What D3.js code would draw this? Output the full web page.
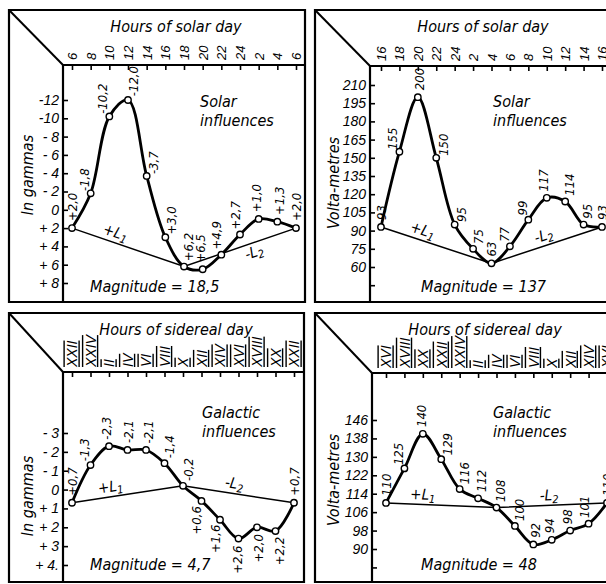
<!DOCTYPE html>
<html><head><meta charset="utf-8">
<script src="https://cdn.jsdelivr.net/npm/d3@7/dist/d3.min.js"></script>
<style>
body{margin:0;background:#fff;}
svg{display:block;font-family:"DejaVu Sans Condensed","DejaVu Sans",sans-serif;font-stretch:condensed;font-style:italic;}
</style></head><body>
<svg id="c" width="606" height="584"></svg>
<script>
// ---- data ----
const hoursSolarTL = ["6","8","10","12","14","16","18","20","22","24","2","4","6"];
const valuesTL = [2.0,-1.8,-10.2,-12.0,-3.7,3.0,6.2,6.5,4.9,2.7,1.0,1.3,2.0];
const ticksTL = [-12,-10,-8,-6,-4,-2,0,2,4,6,8];
const tickLabelsTL = ["-12","-10","- 8","- 6","- 4","- 2","0","+ 2","+ 4","+ 6","+ 8"];

const hoursSolarTR = ["16","18","20","22","24","2","4","6","8","10","12","14","16"];
const valuesTR = [93,155,200,150,95,75,63,77,99,117,114,95,93];
const ticksTR = [210,195,180,165,150,135,120,105,90,75,60,45];
const tickLabelsTR = ["210","195","180","165","150","135","120","105","90","75","60",""];

const hoursSiderealBL = ["XXII","XXIV","II","IV","VI","VIII","X","XII","XIV","XVI","XVIII","XX","XXII"];
const valuesBL = [0.7,-1.3,-2.3,-2.1,-2.1,-1.4,-0.2,0.6,1.6,2.6,2.0,2.2,0.7];
const ticksBL = [-3,-2,-1,0,1,2,3,4];
const tickLabelsBL = ["- 3","- 2","- 1","0","+ 1","+ 2","+ 3","+ 4."];

const hoursSiderealBR = ["XVI","XVIII","XX","XXII","XXIV","II","IV","VI","VIII","X","XII","XIV","XVI"];
const valuesBR = [110,125,140,129,116,112,108,100,92,94,98,101,110];
const ticksBR = [146,138,130,122,114,106,98,90,82];
const tickLabelsBR = ["146","138","130","122","114","106","98","90",""];

const magnitudes = ["18,5","137","4,7","48"];
const titles = ["Hours of solar day","Hours of solar day","Hours of sidereal day","Hours of sidereal day"];
const yTitles = ["In gammas","Volta-metres","In gammas","Volta-metres"];
const notes = [["Solar","influences"],["Solar","influences"],["Galactic","influences"],["Galactic","influences"]];

const fmtGamma = v => (v>0?"+":v<0?"-":"") + Math.abs(v).toFixed(1).replace(".",",");
const fmtVolt = v => String(v);

// ---- layout ----
const panels = [
 {hours:hoursSolarTL, values:valuesTL, ticks:ticksTL, tickLabels:tickLabelsTL, fmt:fmtGamma, roman:false,
  box:{l:9,t:10,r:305,b:302,ix:63,iy:65}, xr:[72,296], yd:[-12,8], yr:[100,283],
  ytY:175, note:[200,107], mag:[90,292], below:[], l1:[0.36,-1], l2:[0.6,1]},
 {hours:hoursSolarTR, values:valuesTR, ticks:ticksTR, tickLabels:tickLabelsTR, fmt:fmtVolt, roman:false,
  box:{l:315,t:10,r:616,b:302,ix:370,iy:66}, xr:[381,602], yd:[60,210], yr:[267,85],
  ytY:183, note:[493,107], mag:[421,292], below:[], l1:[0.35,-1], l2:[0.5,-1]},
 {hours:hoursSiderealBL, values:valuesBL, ticks:ticksBL, tickLabels:tickLabelsBL, fmt:fmtGamma, roman:true,
  box:{l:9,t:313,r:304,b:582,ix:63,iy:372}, xr:[72,294], yd:[-3,4], yr:[433,565],
  ytY:496, note:[202,418], mag:[90,570], below:[7,8,9,10,11], l1:[0.36,-1], l2:[0.45,-1]},
 {hours:hoursSiderealBR, values:valuesBR, ticks:ticksBR, tickLabels:tickLabelsBR, fmt:fmtVolt, roman:true,
  box:{l:315,t:313,r:616,b:582,ix:372,iy:373}, xr:[386,607], yd:[90,146], yr:[549,420],
  ytY:480, note:[493,418], mag:[421,570], below:[], l1:[0.33,-1], l2:[0.48,-1]}
];

const svg = d3.select("#c");

panels.forEach((p, k) => {
  const B = p.box;
  const g = svg.append("g");
  const x = d3.scalePoint().domain(d3.range(p.values.length)).range(p.xr);
  const y = d3.scaleLinear().domain(p.yd).range(p.yr);

  // frame
  g.append("path").attr("d",`M${B.l},${B.b}V${B.t}H${B.r}V${B.b}Z`)
    .attr("fill","none").attr("stroke","#000").attr("stroke-width",2.2);
  g.append("line").attr("x1",B.l).attr("y1",B.t).attr("x2",B.ix).attr("y2",B.iy)
    .attr("stroke","#000").attr("stroke-width",2);
  g.append("line").attr("x1",B.ix).attr("y1",B.iy).attr("x2",B.r).attr("y2",B.iy)
    .attr("stroke","#000").attr("stroke-width",2.2);
  g.append("line").attr("x1",B.ix).attr("y1",B.iy).attr("x2",B.ix).attr("y2",B.b)
    .attr("stroke","#000").attr("stroke-width",2.2);

  // top axis (hours)
  const ax = g.append("g").attr("transform",`translate(0,${B.iy})`)
    .call(d3.axisTop(x).tickSizeInner(-5).tickSizeOuter(0).tickPadding(3).tickFormat(i => p.hours[i]));
  ax.select(".domain").remove();
  ax.selectAll(".tick line").attr("stroke","#000").attr("stroke-width",1.6);
  ax.selectAll(".tick text")
    .attr("transform","rotate(-90)").attr("x",5).attr("y",0).attr("dy","0.35em")
    .attr("text-anchor","start").attr("font-size", p.roman ? 14 : 13)
    .attr("font-family",null).attr("fill","#000")
    .style("text-decoration", p.roman ? "underline overline" : null);

  // left axis
  const ay = g.append("g").attr("transform",`translate(${B.ix},0)`)
    .call(d3.axisLeft(y).tickValues(p.ticks).tickSizeInner(-5).tickSizeOuter(0).tickPadding(4)
      .tickFormat((d,i) => p.tickLabels[i]));
  ay.select(".domain").remove();
  ay.selectAll(".tick line").attr("stroke","#000").attr("stroke-width",1.6);
  ay.selectAll(".tick text").attr("font-size",14).attr("font-family",null).attr("fill","#000");

  // titles
  g.append("text").attr("x",B.ix+113).attr("y",B.t+22).attr("text-anchor","middle")
    .attr("font-size",16).text(titles[k]);
  g.append("text").attr("transform",`translate(${B.l+24},${p.ytY}) rotate(-90)`)
    .attr("text-anchor","middle").attr("font-size",16).text(yTitles[k]);
  g.append("text").attr("x",p.note[0]).attr("y",p.note[1]).attr("font-size",16).text(notes[k][0]);
  g.append("text").attr("x",p.note[0]).attr("y",p.note[1]+19).attr("font-size",16).text(notes[k][1]);
  g.append("text").attr("x",p.mag[0]).attr("y",p.mag[1]).attr("font-size",16)
    .text("Magnitude = " + magnitudes[k]);

  const pts = p.values.map((v,i) => [x(i), y(v)]);
  const n = pts.length, mid = (n-1)/2;

  // L lines
  const Lpts = [pts[0], pts[mid], pts[n-1]];
  g.append("path").attr("d", d3.line()(Lpts)).attr("fill","none")
    .attr("stroke","#000").attr("stroke-width",1.5);
  [[pts[0],pts[mid],p.l1,"+L","1"],[pts[mid],pts[n-1],p.l2,"-L","2"]].forEach(([a,b,cfg,txt,sub]) => {
    const t = cfg[0], side = cfg[1];
    const cx = a[0]+(b[0]-a[0])*t, cy = a[1]+(b[1]-a[1])*t;
    const ang = Math.atan2(b[1]-a[1], b[0]-a[0])*180/Math.PI;
    const tx = g.append("text")
      .attr("transform",`translate(${cx},${cy}) rotate(${ang})`)
      .attr("y", side < 0 ? -5 : 14).attr("text-anchor","middle").attr("font-size",15);
    tx.append("tspan").text(txt);
    tx.append("tspan").attr("font-size",11).attr("dy",3).text(sub);
  });

  // curve
  g.append("path").attr("d", d3.line().curve(d3.curveCatmullRom.alpha(0.5))(pts))
    .attr("fill","none").attr("stroke","#000").attr("stroke-width",2.8).attr("stroke-linejoin","round");
  g.selectAll("circle.pt").data(pts).join("circle").attr("class","pt")
    .attr("cx",d=>d[0]).attr("cy",d=>d[1]).attr("r",3.2)
    .attr("fill","#fff").attr("stroke","#000").attr("stroke-width",1.4);

  // value labels
  pts.forEach((pt,i) => {
    let nx = 0, ny = -1;
    if (i > 0 && i < n-1) {
      const dx = pts[i+1][0]-pts[i-1][0], dy = pts[i+1][1]-pts[i-1][1];
      const len = Math.hypot(dx,dy); nx = dy/len; ny = -dx/len;
    }
    const below = p.below.includes(i);
    const s = below ? -1 : 1, off = 7;
    g.append("text")
      .attr("transform",`translate(${pt[0]+s*nx*off},${pt[1]+s*ny*off}) rotate(-90)`)
      .attr("text-anchor", below ? "end" : "start").attr("dy","0.35em")
      .attr("font-size",13).text(p.fmt(p.values[i]));
  });
});
</script>
</body></html>
